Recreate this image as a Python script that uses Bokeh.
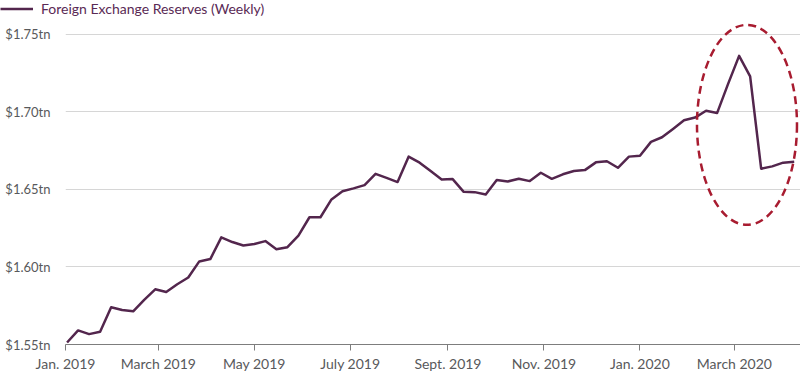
from datetime import datetime, timedelta
import pandas as pd
from bokeh.plotting import figure
from bokeh.layouts import column
from bokeh.models import FixedTicker, Range1d, Legend, LegendItem
from bokeh.embed import file_html
from bokeh.resources import INLINE

# ---- data ----
reserves = [
    1.5513, 1.5591, 1.5567, 1.5582, 1.5740, 1.5723, 1.5714, 1.5788, 1.5856, 1.5839,
    1.5889, 1.5932, 1.6036, 1.6051, 1.6191, 1.6161, 1.6139, 1.6148, 1.6167, 1.6115,
    1.6128, 1.6202, 1.6321, 1.6321, 1.6436, 1.6489, 1.6507, 1.6528, 1.6601, 1.6575,
    1.6548, 1.6712, 1.6673, 1.6619, 1.6565, 1.6567, 1.6485, 1.6483, 1.6468, 1.6561,
    1.6552, 1.6569, 1.6554, 1.6608, 1.6569, 1.6598, 1.6619, 1.6625, 1.6675, 1.6682,
    1.6640, 1.6712, 1.6718, 1.6807, 1.6837, 1.6891, 1.6947, 1.6964, 1.7008, 1.6993,
    1.7181, 1.7362, 1.7230, 1.6634, 1.6649, 1.6673, 1.6679,
]
first_week = datetime(2019, 1, 2)
dates = [first_week + timedelta(weeks=i) for i in range(len(reserves))]

x_tick_dates = ["2019-01-01", "2019-03-01", "2019-05-01", "2019-07-01",
                "2019-09-01", "2019-11-01", "2020-01-01", "2020-03-01"]
x_tick_labels = ["Jan. 2019", "March 2019", "May 2019", "July 2019",
                 "Sept. 2019", "Nov. 2019", "Jan. 2020", "March 2020"]

y_ticks = [1.55, 1.60, 1.65, 1.70, 1.75]
y_tick_labels = ["$1.55tn", "$1.60tn", "$1.65tn", "$1.70tn", "$1.75tn"]

series_name = "Foreign Exchange Reserves (Weekly)"

highlight_date = "2020-03-09"
highlight_value = 1.6917

x_start, x_end = "2019-01-01", "2020-04-12"
y_start, y_end = 1.55, 1.7616


def ms(d):
    return float(pd.Timestamp(d).value // 10**6)


# ---- styles ----
LINE_COLOR = "#53264d"
TEXT_COLOR = "#58595b"
LEGEND_COLOR = "#5a2a55"
GRID_COLOR = "#d6d6d6"
AXIS_COLOR = "#7d7d7d"
RING_COLOR = "#a81c30"
FONT = "Lato"

# ---- main chart ----
p = figure(
    width=800, height=359,
    x_axis_type="datetime",
    x_range=Range1d(ms(x_start), ms(x_end)),
    y_range=Range1d(y_start, y_end),
    output_backend="svg", toolbar_location=None,
    min_border_left=65, min_border_right=0,
    min_border_top=0, min_border_bottom=31,
)
p.frame_align = False
p.outline_line_color = None
p.background_fill_color = "white"
p.border_fill_color = "white"

p.xgrid.grid_line_color = None
p.ygrid.grid_line_color = GRID_COLOR
p.ygrid.grid_line_width = 1

p.yaxis.ticker = FixedTicker(ticks=y_ticks)
p.yaxis.major_label_overrides = {t: l for t, l in zip(y_ticks, y_tick_labels)}
p.yaxis.axis_line_color = None
p.yaxis.major_tick_line_color = None
p.yaxis.minor_tick_line_color = None
p.yaxis.major_tick_out = 0
p.yaxis.major_tick_in = 0
p.yaxis.major_label_standoff = 15
p.yaxis.major_label_text_font = FONT
p.yaxis.major_label_text_font_size = "13px"
p.yaxis.major_label_text_color = TEXT_COLOR

x_ticks = [ms(d) for d in x_tick_dates]
p.xaxis.ticker = FixedTicker(ticks=x_ticks)
p.xaxis.major_label_overrides = {t: l for t, l in zip(x_ticks, x_tick_labels)}
p.xaxis.axis_line_color = AXIS_COLOR
p.xaxis.axis_line_width = 1.2
p.xaxis.major_tick_line_color = AXIS_COLOR
p.xaxis.major_tick_out = 6
p.xaxis.major_tick_in = 0
p.xaxis.minor_tick_line_color = None
p.xaxis.major_label_standoff = 4
p.xaxis.major_label_text_font = FONT
p.xaxis.major_label_text_font_size = "14px"
p.xaxis.major_label_text_color = TEXT_COLOR

p.line(x=dates, y=reserves, line_color=LINE_COLOR, line_width=2.5,
       line_join="round")

p.ellipse(x=[ms(highlight_date)], y=[highlight_value], width=100, height=200,
          width_units="screen", height_units="screen",
          fill_color=None, line_color=RING_COLOR, line_width=2.5,
          line_dash="8 5")

# ---- legend strip above the chart ----
# The key renderer carries the same series; the strip's ranges keep it out
# of view so that only its legend entry is seen.
h = figure(
    width=800, height=16,
    x_axis_type="datetime",
    x_range=Range1d(ms(x_start), ms(x_end)), y_range=Range1d(0, 1),
    output_backend="svg", toolbar_location=None,
    min_border=0,
)
h.frame_align = False
h.outline_line_color = None
h.xaxis.visible = False
h.yaxis.visible = False
h.xgrid.grid_line_color = None
h.ygrid.grid_line_color = None
key = h.line(x=dates, y=reserves, line_color=LINE_COLOR, line_width=2.5)
legend = Legend(
    items=[LegendItem(label=series_name, renderers=[key])],
    location="top_left",
    padding=0, margin=0, spacing=0,
    glyph_width=33, glyph_height=15, label_height=15,
    label_standoff=8,
    label_text_font=FONT, label_text_font_size="14px",
    label_text_color=LEGEND_COLOR,
    border_line_color=None, background_fill_alpha=0,
)
h.add_layout(legend, "center")

layout = column(h, p, spacing=0)

open("out.html", "w").write(file_html(layout, INLINE))
